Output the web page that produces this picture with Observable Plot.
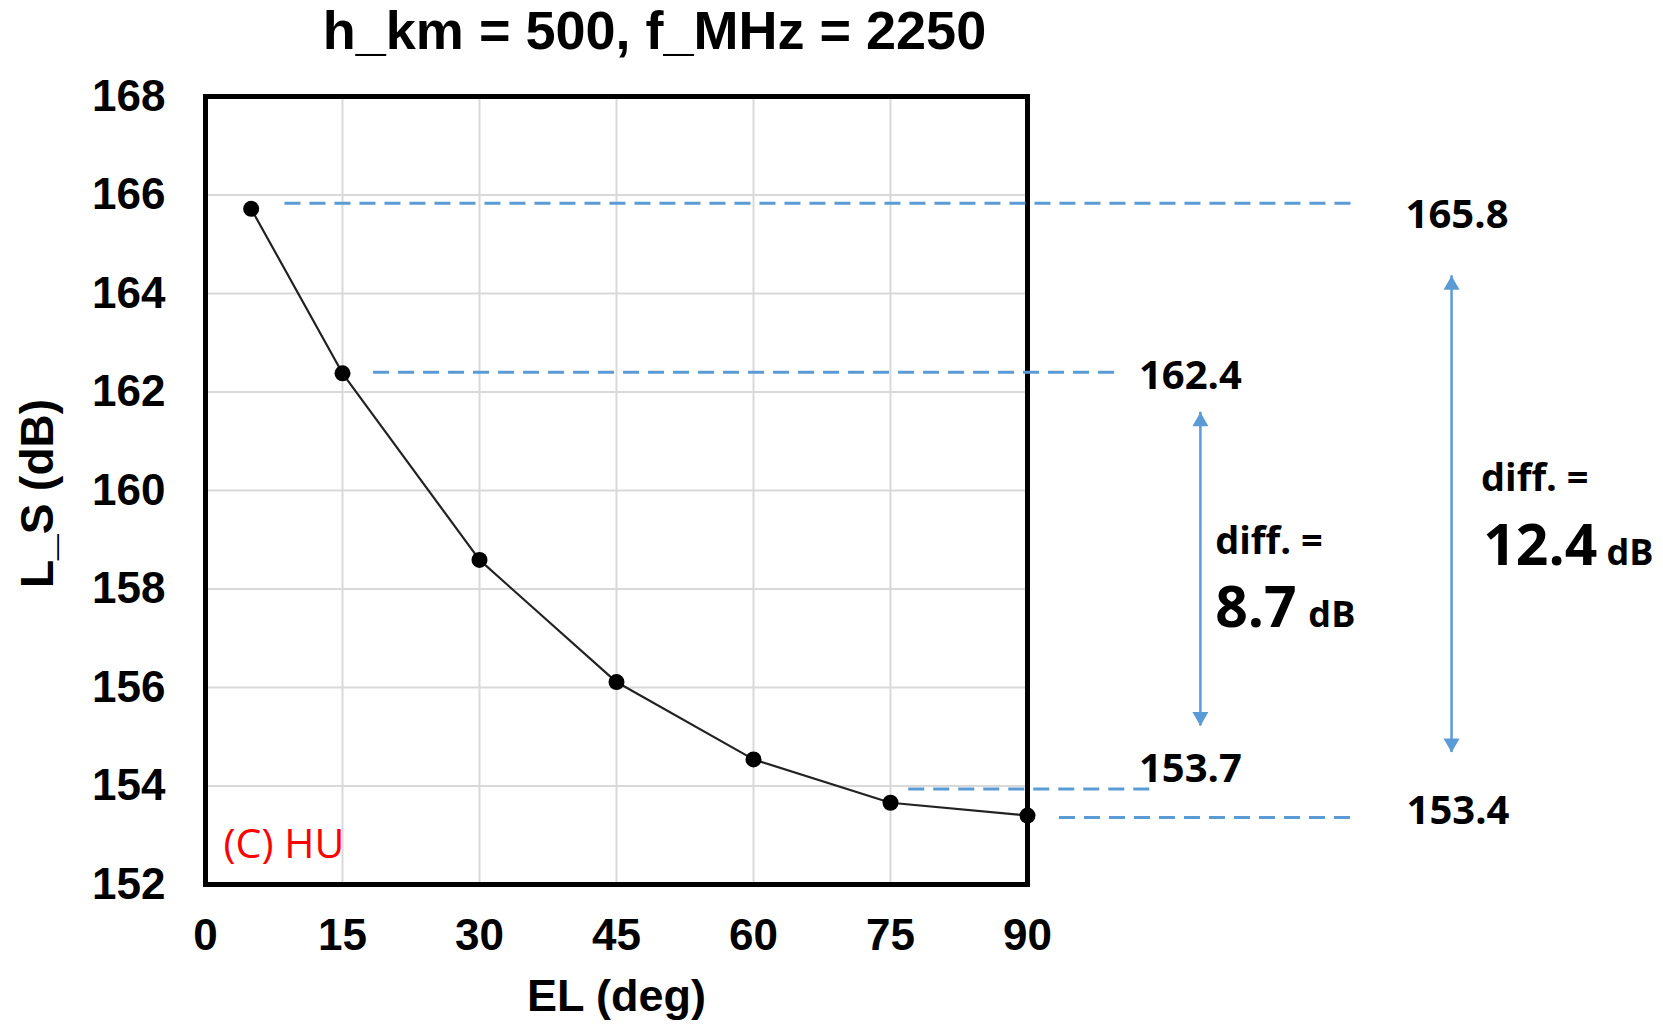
<!DOCTYPE html>
<html><head><meta charset="utf-8">
<script src="https://cdn.jsdelivr.net/npm/d3@7"></script>
<script src="https://cdn.jsdelivr.net/npm/@observablehq/plot@0.6"></script>
<style>body{margin:0;background:#fff}</style>
</head><body><div id="chart"></div>
<script>
// ---- data ----
const title = "h_km = 500, f_MHz = 2250";
const xLabel = "EL (deg)";
const yLabel = "L_S (dB)";
const credit = "(C) HU";
const elDeg = [5, 15, 30, 45, 60, 75, 90];
const lossDb = [165.72, 162.38, 158.59, 156.11, 154.54, 153.66, 153.4];
const xTicks = [0, 15, 30, 45, 60, 75, 90];
const yTicks = [152, 154, 156, 158, 160, 162, 164, 166, 168];
const xGridTicks = [15, 30, 45, 60, 75];
const yGridTicks = [154, 156, 158, 160, 162, 164, 166];

// dashed guide lines (in data units: deg, dB)
const guideY = [165.83, 162.4, 153.94, 153.36];
const guideX1 = [8.7, 18.4, 77.0, 93.5];
const guideX2 = [126.1, 99.9, 103.5, 126.1];
// value labels
const valueText = ["165.8", "162.4", "153.7", "153.4"];
const valueX = [131.4, 102.2, 102.2, 131.5];
const valueY = [165.33, 162.07, 154.09, 153.23];
// difference arrows
const arrowX = [108.93, 136.43];
const arrowTop = [161.59, 164.36];
const arrowBottom = [155.22, 154.68];
const diffLabelX = [110.55, 139.66];
const diffLabelY = [158.71, 159.99];
const diffValue = ["8.7", "12.4"];
const diffValueX = [110.55, 139.9];
const diffUnitX = [120.75, 153.4];
const diffValueY = [157.22, 158.49];
const creditX = 1.97, creditY = 152.54;

// ---- tables ----
const points = elDeg.map((el, i) => ({el, ls: lossDb[i]}));
const guides = guideY.map((y, i) => ({y, x1: guideX1[i], x2: guideX2[i]}));
const values = valueText.map((t, i) => ({t, x: valueX[i], y: valueY[i]}));
const arrows = arrowX.map((x, i) => ({x, top: arrowTop[i], bottom: arrowBottom[i]}));
const diffs = diffValue.map((v, i) => ({v, lx: diffLabelX[i], ly: diffLabelY[i], vx: diffValueX[i], ux: diffUnitX[i], vy: diffValueY[i]}));

const blue = "#5B9BD5";
const upHead = {draw(c) { c.moveTo(0, 0); c.lineTo(8, 14); c.lineTo(-8, 14); c.closePath(); }};
const downHead = {draw(c) { c.moveTo(0, 0); c.lineTo(8, -14); c.lineTo(-8, -14); c.closePath(); }};
const ann = {fontFamily: "Open Sans", fontWeight: 700, textAnchor: "start", lineAnchor: "bottom", fill: "#000"};

const chart = Plot.plot({
  width: 1663,
  height: 1024,
  marginLeft: 205,
  marginRight: 636,
  marginTop: 96,
  marginBottom: 140,
  style: {fontFamily: "Liberation Sans, Arial, sans-serif", fontSize: "44px", fontWeight: "bold", color: "#000", background: "#fff"},
  x: {domain: [0, 90]},
  y: {domain: [152, 168]},
  marks: [
    Plot.gridX(xGridTicks, {stroke: "#d9d9d9", strokeOpacity: 1, strokeWidth: 2}),
    Plot.gridY(yGridTicks, {stroke: "#d9d9d9", strokeOpacity: 1, strokeWidth: 2}),
    Plot.line(points, {x: "el", y: "ls", stroke: "#222", strokeWidth: 2.2}),
    Plot.frame({stroke: "#000", strokeWidth: 5}),
    Plot.dot(points, {x: "el", y: "ls", r: 8, fill: "#000"}),
    Plot.axisX(xTicks, {tickSize: 0, tickPadding: 34, label: null, fontSize: 44, fontWeight: "bold"}),
    Plot.axisY(yTicks, {tickSize: 0, tickPadding: 40, label: null, fontSize: 44, fontWeight: "bold"}),
    Plot.ruleY(guides, {y: "y", x1: "x1", x2: "x2", stroke: blue, strokeWidth: 3, strokeDasharray: "16,9"}),
    Plot.text(values, {x: "x", y: "y", text: "t", fontSize: 40, ...ann}),
    Plot.ruleX(arrows, {x: "x", y1: "top", y2: "bottom", stroke: blue, strokeWidth: 2.5}),
    Plot.dot(arrows, {x: "x", y: "top", symbol: upHead, fill: blue, stroke: null}),
    Plot.dot(arrows, {x: "x", y: "bottom", symbol: downHead, fill: blue, stroke: null}),
    Plot.text(diffs, {x: "lx", y: "ly", text: () => "diff. =", fontSize: 38, ...ann}),
    Plot.text(diffs, {x: "vx", y: "vy", text: "v", fontSize: 57, ...ann}),
    Plot.text(diffs, {x: "ux", y: "vy", text: () => "dB", fontSize: 36, ...ann}),
    Plot.text([credit], {x: () => creditX, y: () => creditY, text: d => d, fontFamily: "Open Sans", fontWeight: 400, fontSize: 41, fill: "#ff0000", textAnchor: "start", lineAnchor: "bottom"}),
    Plot.text([title], {frameAnchor: "top", text: d => d, dx: 38, dy: -65, fontSize: 54, textAnchor: "middle", lineAnchor: "middle"}),
    Plot.text([xLabel], {frameAnchor: "bottom", text: d => d, dy: 112, fontSize: 45, textAnchor: "middle", lineAnchor: "middle"}),
    Plot.text([yLabel], {frameAnchor: "left", text: d => d, dx: -167, dy: 3, rotate: -90, fontSize: 46, textAnchor: "middle", lineAnchor: "middle"})
  ]
});
document.getElementById("chart").appendChild(chart);
</script>
</body></html>
